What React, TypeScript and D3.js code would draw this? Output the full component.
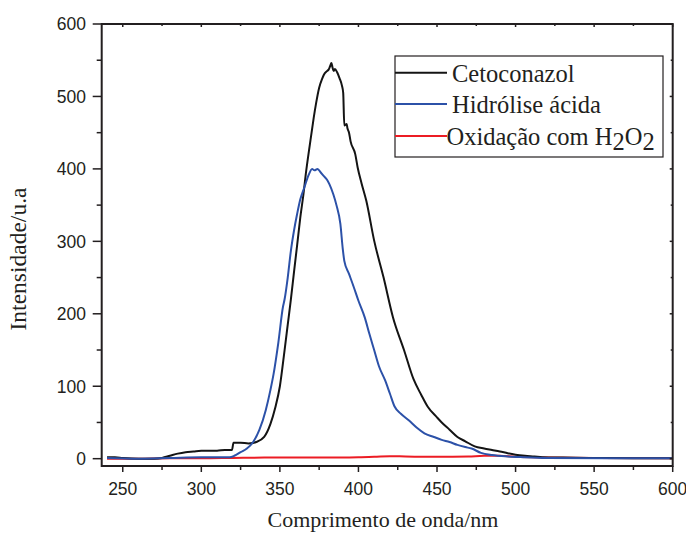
import React from "react";
import * as d3 from "d3";

const cetoX = [240, 245, 250, 260, 270, 275, 280, 285, 290, 295, 300, 305, 310, 315, 319.5, 320.5, 325, 330, 335, 340, 344, 347, 350, 353, 355, 357, 359, 361, 363, 365, 366.5, 368.5, 369.5, 371.5, 373, 375, 377, 378, 380, 381, 382, 382.8, 383.5, 384.3, 385, 386.5, 388, 389.5, 390.3, 391, 392.5, 393, 394, 395, 398, 399.5, 402, 405, 410, 416, 422, 429, 435, 440, 444, 450, 453, 458, 463, 468, 474, 480, 485, 490, 495, 500, 506, 512, 517, 530, 550, 575, 600];
const cetoY = [2, 2, 1, 0, 0, 1, 4, 7, 9, 10, 11, 11, 11, 12, 12, 22, 22, 21, 23, 30, 48, 70, 100, 150, 185, 220, 258, 295, 333, 365, 393, 425, 440, 470, 490, 512, 525, 530, 535, 537, 542, 546, 540, 535, 538, 533, 525, 515, 505, 460, 462, 456, 450, 438, 420, 402, 380, 356, 301, 250, 195, 150, 110, 88, 72, 57, 50, 40, 30, 24, 17, 14, 12, 10, 7.5, 5.5, 4, 3, 2, 1.5, 1, 0.5, 0.5];

const hidX = [240, 260, 280, 300, 318, 321, 325, 329, 333, 337, 341, 344, 346, 349, 352, 353, 355, 357, 359, 361, 363, 365.5, 368, 370.5, 372, 374, 376, 378, 380, 381.5, 384, 386, 388.5, 390, 391, 394, 397, 400, 404, 407, 410, 413, 417, 420, 423, 427, 432, 437, 442, 448, 453, 458, 463, 468, 472, 478, 485, 495, 505, 520, 560, 600];
const hidY = [1, 0, 1, 2, 2, 4, 9, 14, 23, 40, 67, 95, 117, 160, 210, 220, 250, 287, 315, 338, 358, 374, 390, 400, 398, 400, 395, 390, 385, 379, 365, 350, 324, 290, 273, 255, 237, 218, 195, 172, 150, 128, 108, 90, 72, 62, 53, 43, 35, 30, 26, 23, 19, 16, 14, 8, 5, 3, 2, 1, 0.5, 0.5];

const oxiX = [240, 260, 280, 300, 320, 340, 360, 380, 400, 410, 420, 430, 450, 470, 480, 490, 500, 520, 550, 600];
const oxiY = [0, 0, 0.5, 0.5, 1, 1.5, 1.5, 1.5, 2, 2.5, 3.5, 3, 2.5, 3, 4, 4, 2.5, 1.5, 1, 0.5];

const xTicks = [250, 300, 350, 400, 450, 500, 550, 600];
const xMinor = [275, 325, 375, 425, 475, 525, 575];
const yTicks = [0, 100, 200, 300, 400, 500, 600];
const yMinor = [50, 150, 250, 350, 450, 550];

const series = [
  { name: "Cetoconazol", xs: cetoX, ys: cetoY, color: "#141414" },
  { name: "Hidrólise ácida", xs: hidX, ys: hidY, color: "#2c51a8" },
  { name: "Oxidação com H2O2", xs: oxiX, ys: oxiY, color: "#ec1c24" },
];

export default function App() {
  const W = 686, H = 533;
  const x = d3.scaleLinear().domain([236.6, 600]).range([101.7, 672.7]);
  const y = d3.scaleLinear().domain([-10.1, 600]).range([466, 24]);
  const line = d3.line<[number, number]>().x(d => x(d[0])).y(d => y(d[1])).curve(d3.curveMonotoneX);
  const axisColor = "#231f20";
  const sans = "'Liberation Sans', Arial, sans-serif";
  const serif = "'Liberation Serif', 'Times New Roman', serif";
  const L = x.range()[0], R = x.range()[1], T = y.range()[1], B = y.range()[0];
  const legendY = [72.7, 104, 136];

  return (
    <svg width={W} height={H} style={{ position: "absolute", left: 0, top: 0 }}>
      <rect x={0} y={0} width={W} height={H} fill="#fff" />
      <defs>
        <clipPath id="plotclip">
          <rect x={L} y={T} width={R - L} height={B - T} />
        </clipPath>
      </defs>
      <g clipPath="url(#plotclip)">
        {[series[2], series[0], series[1]].map(s => (
          <path key={s.name} d={line(s.xs.map((v, i) => [v, s.ys[i]] as [number, number])) || ""}
            fill="none" stroke={s.color} strokeWidth={2} strokeLinejoin="round" />
        ))}
      </g>
      <rect x={L} y={T} width={R - L} height={B - T} fill="none" stroke={axisColor} strokeWidth={2} />
      {xTicks.map(t => (
        <g key={"xt" + t}>
          <line x1={x(t)} x2={x(t)} y1={B} y2={B + 6} stroke={axisColor} strokeWidth={1.5} />
          <line x1={x(t)} x2={x(t)} y1={T} y2={T + 3} stroke={axisColor} strokeWidth={1.5} />
          <text x={x(t)} y={495} textAnchor="middle" fontFamily={sans} fontSize={17.5} fill="#231f20">{t}</text>
        </g>
      ))}
      {xMinor.map(t => (
        <g key={"xm" + t}>
          <line x1={x(t)} x2={x(t)} y1={B} y2={B + 4} stroke={axisColor} strokeWidth={1.5} />
          <line x1={x(t)} x2={x(t)} y1={T} y2={T + 2} stroke={axisColor} strokeWidth={1.5} />
        </g>
      ))}
      {yTicks.map(t => (
        <g key={"yt" + t}>
          <line x1={L - 9} x2={L} y1={y(t)} y2={y(t)} stroke={axisColor} strokeWidth={1.5} />
          <line x1={R - 3} x2={R} y1={y(t)} y2={y(t)} stroke={axisColor} strokeWidth={1.5} />
          <text x={86} y={y(t)} dy="0.36em" textAnchor="end" fontFamily={sans} fontSize={17.5} fill="#231f20">{t}</text>
        </g>
      ))}
      {yMinor.map(t => (
        <g key={"ym" + t}>
          <line x1={L - 5} x2={L} y1={y(t)} y2={y(t)} stroke={axisColor} strokeWidth={1.5} />
          <line x1={R - 2} x2={R} y1={y(t)} y2={y(t)} stroke={axisColor} strokeWidth={1.5} />
        </g>
      ))}
      <text x={383} y={527} textAnchor="middle" fontFamily={serif} fontSize={22} fill="#231f20">Comprimento de onda/nm</text>
      <text transform="translate(26,259) rotate(-90)" textAnchor="middle" fontFamily={serif} fontSize={23.5} fill="#231f20">Intensidade/u.a</text>
      <rect x={395} y={56} width={268} height={101} fill="#fff" stroke={axisColor} strokeWidth={1.2} />
      {series.map((s, i) => (
        <line key={"ll" + i} x1={395} x2={447} y1={legendY[i]} y2={legendY[i]} stroke={s.color} strokeWidth={2} />
      ))}
      <text x={452} y={82} fontFamily={serif} fontSize={24.5} fill="#231f20">Cetoconazol</text>
      <text x={452} y={113.3} fontFamily={serif} fontSize={24.5} fill="#231f20">Hidrólise ácida</text>
      <text x={446.5} y={145} fontFamily={serif} fontSize={24.5} fill="#231f20">
        Oxidação com H<tspan dy={5}>2</tspan><tspan dy={-5}>O</tspan><tspan dy={5}>2</tspan>
      </text>
    </svg>
  );
}
